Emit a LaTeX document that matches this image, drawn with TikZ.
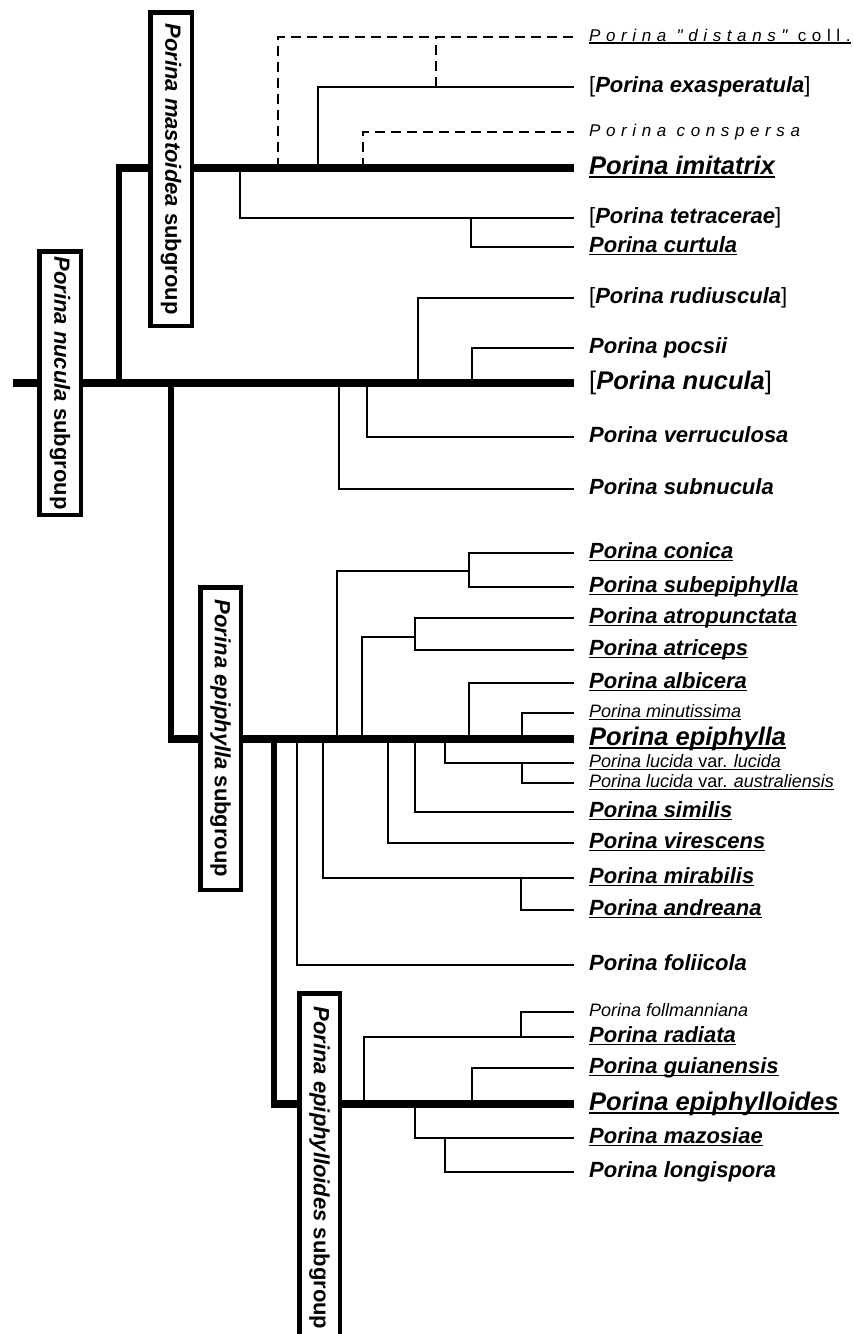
\documentclass[tikz,border=0pt]{standalone}
\usepackage{fontspec}
\setmainfont{Liberation Sans}
\newfontfamily\spacedfont[LetterSpace=33]{Liberation Sans}
\usepackage{tikz}

\newsavebox\ulbox
\newcommand{\undl}[1]{\sbox\ulbox{#1}\rlap{\rule[-0.12em]{\wd\ulbox}{0.07em}}\usebox\ulbox}
\newcommand{\brk}[1]{{\mdseries\upshape[}#1{\mdseries\upshape]}}

\begin{document}
\begin{tikzpicture}[x=1pt,y=-1pt,
  branch/.style={line width=1.6pt},
  dashbranch/.style={line width=1.6pt, dash pattern=on 10pt off 6pt},
  trunk/.style={line width=7.5pt},
  stem/.style={line width=6pt},
  grpbox/.style={draw, line width=4.5pt, fill=white, rotate=-90, inner sep=0pt,
    font=\fontsize{22}{24}\selectfont\bfseries},
  taxon/.style={anchor=west, inner xsep=15pt, inner ysep=0pt, text height=16pt, text depth=4.5pt,
    font=\fontsize{22}{24}\selectfont\bfseries\itshape},
  bigtaxon/.style={taxon, text height=18.5pt, text depth=5pt,
    font=\fontsize{25.5}{28}\selectfont\bfseries\itshape},
  smalltaxon/.style={taxon, text height=13pt, text depth=3.5pt,
    font=\fontsize{18}{20}\selectfont\itshape},
  spacedtaxon/.style={taxon, text height=12.5pt, text depth=3.5pt,
    font=\spacedfont\fontsize{17}{19}\selectfont\itshape}]
\useasboundingbox (0,0) rectangle (854,1334);
\clip (0,0) rectangle (854,1334);

\node[spacedtaxon] (distans) at (574,37) {\undl{Porina "distans" {\upshape coll.}}};
\node[taxon] (exasperatula) at (574,87) {\brk{Porina exasperatula}};
\node[spacedtaxon] (conspersa) at (574,132) {Porina conspersa};
\node[bigtaxon] (imitatrix) at (574,168) {\undl{Porina imitatrix}};
\node[taxon] (tetracerae) at (574,218) {\brk{Porina tetracerae}};
\node[taxon] (curtula) at (574,247) {\undl{Porina curtula}};

\node[taxon] (rudiuscula) at (574,298) {\brk{Porina rudiuscula}};
\node[taxon] (pocsii) at (574,348) {Porina pocsii};
\node[bigtaxon] (nucula) at (574,383) {\brk{Porina nucula}};
\node[taxon] (verruculosa) at (574,437) {Porina verruculosa};
\node[taxon] (subnucula) at (574,489) {Porina subnucula};

\node[taxon] (conica) at (574,553) {\undl{Porina conica}};
\node[taxon] (subepiphylla) at (574,587) {\undl{Porina subepiphylla}};
\node[taxon] (atropunctata) at (574,618) {\undl{Porina atropunctata}};
\node[taxon] (atriceps) at (574,650) {\undl{Porina atriceps}};
\node[taxon] (albicera) at (574,683) {\undl{Porina albicera}};
\node[smalltaxon] (minutissima) at (574,713) {\undl{Porina minutissima}};
\node[bigtaxon] (epiphylla) at (574,739) {\undl{Porina epiphylla}};
\node[smalltaxon] (lucida) at (574,763) {\undl{Porina lucida {\upshape var.} lucida}};
\node[smalltaxon] (australiensis) at (574,783) {\undl{Porina lucida {\upshape var.} australiensis}};
\node[taxon] (similis) at (574,812) {\undl{Porina similis}};
\node[taxon] (virescens) at (574,843) {\undl{Porina virescens}};
\node[taxon] (mirabilis) at (574,878) {\undl{Porina mirabilis}};
\node[taxon] (andreana) at (574,910) {\undl{Porina andreana}};
\node[taxon] (foliicola) at (574,965) {Porina foliicola};

\node[smalltaxon] (follmanniana) at (574,1012) {Porina follmanniana};
\node[taxon] (radiata) at (574,1037) {\undl{Porina radiata}};
\node[taxon] (guianensis) at (574,1068) {\undl{Porina guianensis}};
\node[bigtaxon] (epiphylloides) at (574,1104) {\undl{Porina epiphylloides}};
\node[taxon] (mazosiae) at (574,1138) {\undl{Porina mazosiae}};
\node[taxon] (longispora) at (574,1172) {Porina longispora};

\coordinate (conicaclade) at (469,571);
\coordinate (atriclade) at (415,637);

\draw[trunk] (13,383) -- (nucula.west);
\draw[stem] (119,383) -- (119,168);
\draw[trunk] (116,168) -- (imitatrix.west);
\draw[stem] (171,383) -- (171,740);
\draw[trunk] (168,739) -- (epiphylla.west);
\draw[stem] (274,739) -- (274,1104);
\draw[trunk] (271,1104) -- (epiphylloides.west);

\draw[dashbranch] (278,168) |- (distans.west);
\draw[dashbranch] (436,87) -- (436,37);
\draw[branch] (318,168) |- (exasperatula.west);
\draw[dashbranch] (363,168) |- (conspersa.west);
\draw[branch] (240,168) |- (tetracerae.west);
\draw[branch] (471,218) |- (curtula.west);

\draw[branch] (418,383) |- (rudiuscula.west);
\draw[branch] (472,383) |- (pocsii.west);
\draw[branch] (367,383) |- (verruculosa.west);
\draw[branch] (339,383) |- (subnucula.west);

\draw[branch] (337,739) |- (conicaclade);
\draw[branch] (conica.west) -| (conicaclade) |- (subepiphylla.west);
\draw[branch] (362,739) |- (atriclade);
\draw[branch] (atropunctata.west) -| (atriclade) |- (atriceps.west);
\draw[branch] (469,739) |- (albicera.west);
\draw[branch] (522,739) |- (minutissima.west);
\draw[branch] (445,739) |- (lucida.west);
\draw[branch] (522,763) |- (australiensis.west);
\draw[branch] (415,739) |- (similis.west);
\draw[branch] (388,739) |- (virescens.west);
\draw[branch] (323,739) |- (mirabilis.west);
\draw[branch] (521,878) |- (andreana.west);
\draw[branch] (297,739) |- (foliicola.west);

\draw[branch] (364,1104) |- (radiata.west);
\draw[branch] (521,1037) |- (follmanniana.west);
\draw[branch] (472,1104) |- (guianensis.west);
\draw[branch] (415,1104) |- (mazosiae.west);
\draw[branch] (445,1138) |- (longispora.west);

\node[grpbox, minimum width=313.5pt, minimum height=41.5pt] (mastoideabox) at (171,169) {\textit{Porina mastoidea} subgroup};
\node[grpbox, minimum width=263.5pt, minimum height=41.5pt] (nuculabox) at (60,383) {\textit{Porina nucula} subgroup};
\node[grpbox, minimum width=302.5pt, minimum height=40.5pt] (epiphyllabox) at (220.5,738.5) {\textit{Porina epiphylla} subgroup};
\node[grpbox, minimum width=349.5pt, minimum height=40.5pt] (epiphylloidesbox) at (319.5,1168) {\textit{Porina epiphylloides} subgroup\hspace{13pt}};
\end{tikzpicture}
\end{document}
